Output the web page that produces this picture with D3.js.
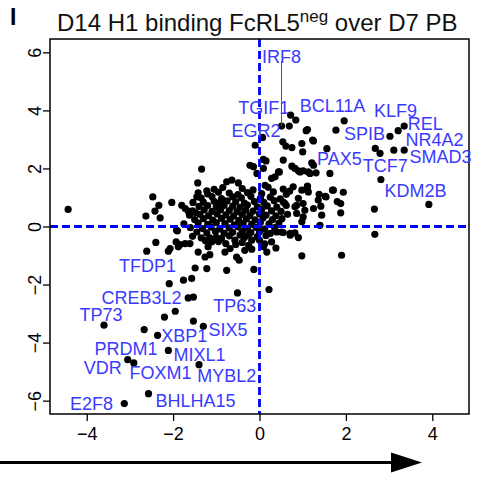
<!DOCTYPE html>
<html>
<head>
<meta charset="utf-8">
<script src="https://cdn.jsdelivr.net/npm/d3@7"></script>
<style>
  body { margin: 0; background: #fff; }
  svg { display: block; font-family: "Liberation Sans", Arial, Helvetica, sans-serif; }
</style>
</head>
<body>
<svg id="chart" width="495" height="480"></svg>
<script>
// log2 fold change, D7 PB (x) vs D14 H1-binding FcRL5neg (y)
const geneX = [
  // peripheral genes, upper left
  -4.43, -2.63, -2.47, -2.33, -2.42, -2.30, -2.03, -1.80, -1.72, -1.65, -1.48, -1.54, -1.45, -1.42, -1.34, -1.43, -1.22, -1.92,
  -0.76, -0.64, -0.49, -0.22, -0.14, -0.10, 0.07, 0.09, 0.15, -0.06, 0.09, 0.44, 0.36, 0.28, 0.13,
  // upper right
  0.72, 0.84, 0.51, 0.69, 1.11, 0.54, 0.61, 0.75, 0.98, 1.00, 1.23, 1.56, 1.96, 1.77, 3.02, 3.21, 3.35, 2.68, 2.79, 3.11, 3.35,
  2.81, 3.92, 2.66, 2.67, 1.63, 0.55, 0.75, 0.82, 0.94, 1.21, 1.25, 1.17, 1.31, 0.46, 0.78, 1.11, 1.71, 1.94, 1.38, 1.52, 1.80,
  1.88, 1.36, 1.25, 0.90, 0.86, 0.59, 1.40, 1.01, 0.98, 0.71, 0.51, 0.82, 0.90, 1.08, 1.25,
  0.90, 1.01, 1.13, 0.98, 1.11, 1.13, 1.54, 1.69, 1.88, 1.01, 0.82, 1.05, 1.42, 1.44, 0.86,
  // lower left
  -1.90, -2.40, -2.61, -2.11, -2.07, -1.93, -1.88, -1.84, -1.72, -1.61, -1.42, -1.49, -1.57, -1.76, -2.09, -1.65, -1.53,
  -1.95, -2.20, -1.53, -1.30, -2.67, -2.36, -3.60, -2.11, -3.05, -2.91, -1.40, -2.57, -3.13, -0.51, -0.13, -0.76, -1.22,
  -1.35, -1.15, -1.11, -1.19, -1.26, -1.15, -0.80, -0.68, -0.78, -0.53, -0.47, -0.34, -0.18, -0.88, -0.57, -0.45, -0.26, -0.18,
  // lower right
  0.22, 0.98, 1.90, 0.09, 0.17, 0.38, 0.55, 0.71,
  // central cluster
  -1.05, -0.85, -0.40, -0.15, 0.20, 0.55, 0.70,
  -1.20, -0.95, -0.70, -0.50, -0.28, 0.05, 0.32, 0.62,
  -1.35, -1.10, -0.88, -0.62, -0.42, -0.20, 0.02, 0.25, 0.48,
  -1.30, -1.05, -0.92, -0.75, -0.55, -0.35, -0.12, 0.10, 0.34, 0.55,
  -1.40, -1.20, -1.00, -0.82, -0.62, -0.45, -0.28, -0.05, 0.18, 0.40, 0.62,
  -1.55, -1.28, -1.10, -0.90, -0.70, -0.52, -0.32, -0.15, 0.05, 0.28, 0.50,
  -1.62, -1.38, -1.18, -0.98, -0.78, -0.60, -0.40, -0.22, 0.00, 0.15, 0.38, 0.65,
  -1.50, -1.30, -1.08, -0.88, -0.68, -0.48, -0.30, -0.10, 0.08, 0.30, 0.52,
  -1.75, -1.42, -1.20, -1.00, -0.80, -0.58, -0.38, -0.18, 0.02, 0.22, 0.45,
  -1.60, -1.32, -1.12, -0.92, -0.70, -0.50, -0.28, -0.08, 0.12, 0.35,
  -1.45, -1.22, -1.02, -0.82, -0.62, -0.40, -0.20, 0.00, 0.25, 0.40,
  -1.55, -1.00, -0.70, -0.35, -0.05, 0.15,
  -1.25, -0.95, -0.40, 0.00, 0.28,
  -0.55, -0.25, 0.12
];
const geneY = [
  0.59, 0.36, 1.02, 0.73, 0.53, 0.30, 0.83, 0.73, 0.62, 0.53, 0.48, 0.83, 1.02, 1.16, 1.98, 1.50, 1.23, -0.13,
  1.54, 1.60, 1.50, 2.11, 2.06, 2.80, 3.07, 2.31, 2.26, 1.83, 2.00, 1.88, 1.71, 1.66, 1.42,
  3.84, 3.67, 3.46, 3.46, 3.34, 2.92, 2.77, 2.72, 2.86, 2.57, 2.98, 2.68, 3.64, 3.32, 3.11, 3.30, 3.46, 2.69, 2.52, 2.63, 2.63,
  1.62, 0.76, 0.60, -0.27, 1.83, 2.29, 2.08, 2.00, 1.88, 2.19, 2.11, 1.83, 1.85, 1.88, 1.37, 1.37, 1.25, 1.18, 1.11, 1.04, 0.86,
  0.47, 0.91, 0.62, 0.97, 0.73, 0.79, 0.04, 0.33, 0.16, -0.24, -0.19, -0.22, -0.38, 3.30, 2.95,
  1.92, 1.92, 1.88, 1.25, 1.39, 1.19, 1.02, 1.25, 0.79, 0.79, 0.68, 0.56, 0.70, 0.39, 0.45,
  -0.15, -0.55, -0.85, -0.85, -0.76, -0.53, -0.70, -0.62, -0.59, -0.59, -0.88, -1.43, -1.79, -1.85, -1.97, -2.46, -2.43,
  -2.92, -3.12, -3.26, -3.44, -3.55, -3.75, -3.40, -4.27, -4.59, -4.70, -4.76, -5.76, -6.10, -2.29, -1.48, -1.51, -1.45,
  -0.39, -0.39, -0.53, -0.70, -1.05, -0.97, -0.88, -0.76, -0.59, -1.05, -1.16, -0.82, -0.78, -0.41, -0.47, -0.30, -0.30, -0.47,
  -2.17, -1.01, -0.99, -0.70, -0.88, -0.74, -0.21, -0.30,
  1.28, 1.34, 1.31, 1.26, 1.35, 1.29, 1.22,
  1.12, 1.18, 1.15, 1.10, 1.17, 1.13, 1.19, 1.11,
  0.98, 1.03, 0.96, 1.02, 0.99, 1.04, 0.97, 1.01, 0.95,
  0.84, 0.87, 0.82, 0.88, 0.85, 0.81, 0.86, 0.83, 0.89, 0.84,
  0.69, 0.72, 0.67, 0.73, 0.70, 0.66, 0.74, 0.68, 0.71, 0.67, 0.72,
  0.54, 0.57, 0.52, 0.58, 0.55, 0.51, 0.56, 0.53, 0.59, 0.54, 0.52,
  0.39, 0.42, 0.37, 0.43, 0.40, 0.36, 0.41, 0.38, 0.44, 0.39, 0.37, 0.42,
  0.24, 0.27, 0.22, 0.28, 0.25, 0.21, 0.26, 0.23, 0.29, 0.24, 0.27,
  0.09, 0.12, 0.07, 0.13, 0.10, 0.06, 0.11, 0.08, 0.14, 0.09, 0.12,
  -0.04, -0.07, -0.02, -0.08, -0.05, -0.01, -0.06, -0.03, -0.09, -0.04,
  -0.19, -0.22, -0.17, -0.23, -0.20, -0.16, -0.21, -0.18, -0.24, -0.19,
  -0.34, -0.37, -0.32, -0.38, -0.35, -0.31,
  -0.49, -0.52, -0.55, -0.47, -0.53,
  -0.62, -0.65, -0.60
];

// labelled genes and the centre of each label, in data units
const labelNames = ["IRF8", "TGIF1", "EGR2", "BCL11A", "KLF9", "REL", "NR4A2", "SMAD3", "SPIB", "PAX5", "TCF7", "KDM2B",
  "TFDP1", "CREB3L2", "TP73", "TP63", "SIX5", "XBP1", "PRDM1", "MIXL1", "VDR", "FOXM1", "MYBL2", "BHLHA15", "E2F8"];
const labelX = [0.51, 0.10, -0.08, 1.69, 3.15, 3.84, 4.05, 4.19, 2.43, 1.85, 2.91, 3.61,
  -2.59, -2.73, -3.67, -0.57, -0.73, -1.74, -3.09, -1.39, -3.63, -2.29, -0.76, -1.48, -3.89];
const labelY = [5.84, 4.08, 3.29, 4.16, 3.97, 3.52, 2.97, 2.38, 3.18, 2.32, 2.08, 1.23,
  -1.37, -2.48, -3.06, -2.75, -3.58, -3.77, -4.23, -4.42, -4.89, -5.06, -5.16, -6.01, -6.13];

// IRF8 connector: from under its label down to its point
const irf8Point = [0.51, 3.46];

const xTicks = [-4, -2, 0, 2, 4];
const yTicks = [-6, -4, -2, 0, 2, 4, 6];

const svg = d3.select("#chart");
const plot = { left: 50, right: 469, top: 39, bottom: 414 };

const x = d3.scaleLinear().domain([-4.85, 4.85]).range([plot.left, plot.right]);
const y = d3.scaleLinear().domain([-6.46, 6.46]).range([plot.bottom, plot.top]);

// panel letter
svg.append("text")
  .attr("x", 10).attr("y", 25)
  .attr("font-size", 23).attr("font-weight", "bold")
  .text("I");

// title with superscript
const title = svg.append("text")
  .attr("x", 57).attr("y", 31)
  .attr("font-size", 24)
  .attr("fill", "#111");
title.append("tspan").text("D14 H1 binding FcRL5");
title.append("tspan").attr("font-size", 17).attr("dy", -9).text("neg");
title.append("tspan").attr("dy", 9).text(" over D7 PB");

// axes
const xAxis = d3.axisBottom(x).tickValues(xTicks).tickSize(7).tickPadding(6).tickFormat(d3.format("d"));
const gx = svg.append("g").attr("transform", `translate(0,${plot.bottom})`).call(xAxis);
gx.select(".domain").remove();
gx.selectAll("line").attr("stroke", "#000").attr("stroke-width", 1.3);
gx.selectAll("text").attr("font-size", 18).attr("fill", "#000")
  .attr("font-family", "Liberation Sans, Arial, sans-serif");

const yAxis = d3.axisLeft(y).tickValues(yTicks).tickSize(7).tickFormat(d3.format("d"));
const gy = svg.append("g").attr("transform", `translate(${plot.left},0)`).call(yAxis);
gy.select(".domain").remove();
gy.selectAll("line").attr("stroke", "#000").attr("stroke-width", 1.3);
gy.selectAll("text")
  .attr("font-size", 18).attr("fill", "#000")
  .attr("font-family", "Liberation Sans, Arial, sans-serif")
  .attr("x", null).attr("dy", null)
  .attr("text-anchor", "middle")
  .attr("transform", "translate(-9,0) rotate(-90)");

// points
const pts = d3.range(geneX.length);
svg.append("g").selectAll("circle").data(pts).join("circle")
  .attr("cx", i => x(geneX[i]))
  .attr("cy", i => y(geneY[i]))
  .attr("r", 3.6)
  .attr("fill", "#000");

// zero reference lines
svg.append("line")
  .attr("x1", x(0)).attr("x2", x(0)).attr("y1", plot.top).attr("y2", plot.bottom)
  .attr("stroke", "#0000ff").attr("stroke-width", 2.8).attr("stroke-dasharray", "8,4");
svg.append("line")
  .attr("x1", plot.left).attr("x2", plot.right).attr("y1", y(0)).attr("y2", y(0))
  .attr("stroke", "#0000ff").attr("stroke-width", 2.8).attr("stroke-dasharray", "8,4");

// frame
svg.append("rect")
  .attr("x", plot.left).attr("y", plot.top)
  .attr("width", plot.right - plot.left).attr("height", plot.bottom - plot.top)
  .attr("fill", "none").attr("stroke", "#000").attr("stroke-width", 1.5);

// IRF8 connector
svg.append("line")
  .attr("x1", x(irf8Point[0])).attr("x2", x(irf8Point[0]))
  .attr("y1", y(labelY[0]) + 4).attr("y2", y(irf8Point[1]))
  .attr("stroke", "#555").attr("stroke-width", 1);

// gene labels
svg.append("g").selectAll("text").data(labelNames).join("text")
  .attr("x", (d, i) => x(labelX[i]))
  .attr("y", (d, i) => y(labelY[i]))
  .attr("text-anchor", "middle")
  .attr("dominant-baseline", "central")
  .attr("font-size", 18)
  .attr("fill", "#3a3aff")
  .text(d => d);

// direction arrow under the axis
const arrowY = 462.5;
svg.append("line")
  .attr("x1", 0).attr("x2", 394).attr("y1", arrowY).attr("y2", arrowY)
  .attr("stroke", "#000").attr("stroke-width", 3.2);
svg.append("path")
  .attr("d", d3.line()([[391, arrowY - 10], [422, arrowY], [391, arrowY + 10]]) + "Z")
  .attr("fill", "#000");
</script>
</body>
</html>
